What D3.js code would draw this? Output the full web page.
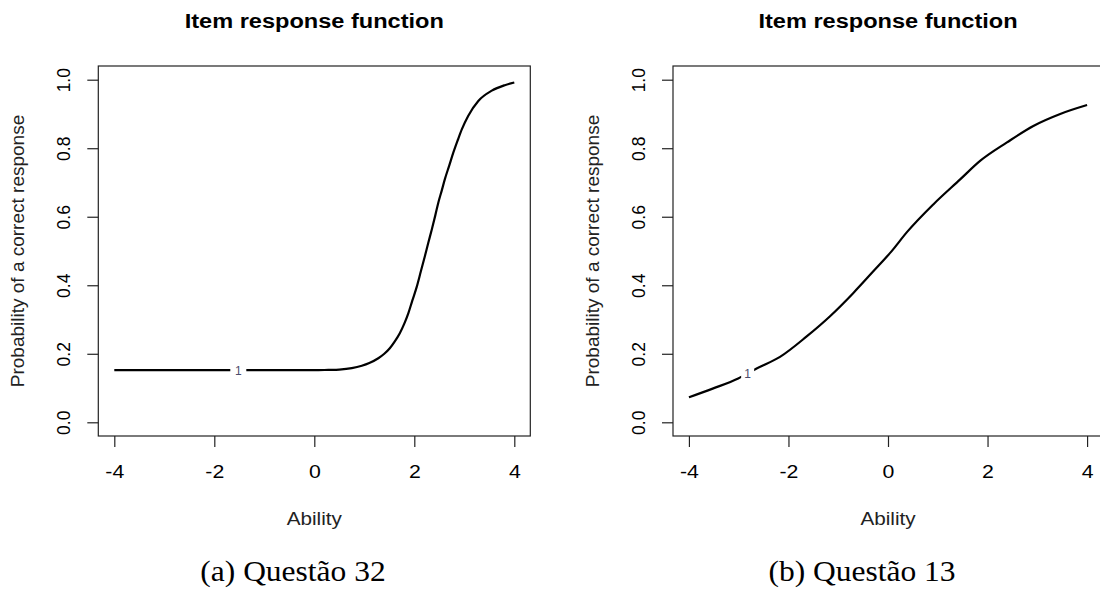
<!DOCTYPE html>
<html>
<head>
<meta charset="utf-8">
<script src="https://cdn.jsdelivr.net/npm/d3@7"></script>
<style>
  body { margin: 0; background: #fff; }
  text { fill: #000; }
</style>
</head>
<body>
<div id="chart"></div>
<script>
// values
const thetaA = [-4, -3, -2, -1, 0, 0.28, 0.5, 0.75, 0.95, 1.1, 1.28, 1.4, 1.51, 1.61, 1.71, 1.8, 1.88, 1.96,
    2.05, 2.13, 2.21, 2.28, 2.35, 2.42, 2.48, 2.55, 2.61, 2.7, 2.78, 2.87, 2.95, 3.08, 3.28, 3.55, 3.81, 4.0];
const probA = [0.152, 0.152, 0.152, 0.152, 0.152, 0.153, 0.154, 0.158, 0.165, 0.173, 0.187, 0.2, 0.216, 0.236, 0.26, 0.288, 0.318, 0.355,
    0.396, 0.44, 0.484, 0.524, 0.563, 0.604, 0.641, 0.677, 0.709, 0.75, 0.787, 0.824, 0.855, 0.895, 0.938, 0.968, 0.984, 0.992];

const thetaB = [-4, -3.51, -3.01, -2.64, -2.17, -1.64, -1.17, -0.7, -0.3, 0.07, 0.38, 0.91, 1.45, 1.85, 2.39, 2.92, 3.46, 4.0];
const probB = [0.073, 0.099, 0.128, 0.157, 0.191, 0.25, 0.309, 0.377, 0.44, 0.499, 0.555, 0.636, 0.709, 0.763, 0.817, 0.865, 0.9, 0.926];

const xTicks = [-4, -2, 0, 2, 4];
const yTicks = [0, 0.2, 0.4, 0.6, 0.8, 1.0];
const plotTitle = 'Item response function';
const xTitle = 'Ability';
const yTitle = 'Probability of a correct response';
const captions = ['(a) Questão 32', '(b) Questão 13'];
const curveLabel = '1';
const labelTheta = [-1.52, -2.82];

const W = 1100, H = 590;
const SX = 1.15; // the picture is a bit stretched sideways
const SANS = '"Liberation Sans", Arial, sans-serif';
const SERIF = '"Liberation Serif", "Times New Roman", serif';

const svg = d3.select('#chart').append('svg')
    .attr('width', W)
    .attr('height', H);

const panels = [
    { left: 98.3, right: 530.3, captionX: 293, theta: thetaA, prob: probA, labelAt: labelTheta[0], gap: 16 },
    { left: 673, right: 1103, captionX: 862, theta: thetaB, prob: probB, labelAt: labelTheta[1], gap: 13 }
];

panels.forEach((p, i) => drawPanel(p, captions[i]));

function drawPanel(p, caption) {
    const top = 66, bottom = 436;
    const x = d3.scaleLinear().domain([-4.32, 4.32]).range([p.left, p.right]);
    const y = d3.scaleLinear().domain([-0.04, 1.04]).range([bottom, top]);
    const midX = (p.left + p.right) / 2;

    const g = svg.append('g');

    // curve
    const pts = p.theta.map((t, k) => [t, p.prob[k]]);
    g.append('path')
        .datum(pts)
        .attr('fill', 'none')
        .attr('stroke', '#000')
        .attr('stroke-width', 2.2)
        .attr('stroke-linejoin', 'round')
        .attr('d', d3.line().x(d => x(d[0])).y(d => y(d[1])).curve(d3.curveMonotoneX));

    // the "1" label sitting in a gap of the curve
    const k = d3.bisectLeft(p.theta, p.labelAt);
    const f = (p.labelAt - p.theta[k - 1]) / (p.theta[k] - p.theta[k - 1]);
    const labelP = p.prob[k - 1] + f * (p.prob[k] - p.prob[k - 1]);
    g.append('rect')
        .attr('x', x(p.labelAt) - p.gap / 2)
        .attr('y', y(labelP) - 6)
        .attr('width', p.gap)
        .attr('height', 12)
        .attr('fill', '#fff');
    g.append('text')
        .attr('x', x(p.labelAt))
        .attr('y', y(labelP) + 4.5)
        .attr('text-anchor', 'middle')
        .style('font-family', SANS)
        .style('font-size', '12px')
        .style('fill', '#4b4b6b')
        .text(curveLabel);

    // box
    g.append('rect')
        .attr('x', p.left)
        .attr('y', top)
        .attr('width', p.right - p.left)
        .attr('height', bottom - top)
        .attr('fill', 'none')
        .attr('stroke', '#222')
        .attr('stroke-width', 1.2);

    // x axis
    const xAxis = g.append('g')
        .attr('transform', `translate(0,${bottom})`)
        .call(d3.axisBottom(x).tickValues(xTicks).tickSize(11).tickFormat(d => String(d)));
    xAxis.select('.domain').remove();
    xAxis.selectAll('line').attr('stroke', '#222').attr('stroke-width', 1.2);
    xAxis.selectAll('text')
        .attr('y', 0).attr('dy', 0)
        .attr('transform', `translate(0,42) scale(${SX},1)`)
        .style('font-size', '18.5px')
        .style('font-family', SANS);

    // y axis
    const yAxis = g.append('g')
        .attr('transform', `translate(${p.left},0)`)
        .call(d3.axisLeft(y).tickValues(yTicks).tickSize(11).tickFormat(d3.format('.1f')));
    yAxis.select('.domain').remove();
    yAxis.selectAll('line').attr('stroke', '#222').attr('stroke-width', 1.2);
    yAxis.selectAll('text')
        .attr('x', 0).attr('dy', 0)
        .attr('text-anchor', 'middle')
        .attr('transform', 'translate(-28,0) rotate(-90)')
        .style('font-size', '17.5px')
        .style('font-family', SANS);

    // titles
    g.append('text')
        .attr('transform', `translate(${midX},28) scale(${SX},1)`)
        .attr('text-anchor', 'middle')
        .style('font-family', SANS)
        .style('font-size', '20.5px')
        .style('font-weight', 'bold')
        .text(plotTitle);

    g.append('text')
        .attr('transform', `translate(${midX},525) scale(${SX},1)`)
        .attr('text-anchor', 'middle')
        .style('font-family', SANS)
        .style('font-size', '18px')
        .style('fill', '#222')
        .text(xTitle);

    g.append('text')
        .attr('transform', `translate(${p.left - 74},${(top + bottom) / 2}) rotate(-90)`)
        .attr('text-anchor', 'middle')
        .style('font-family', SANS)
        .style('font-size', '19px')
        .style('fill', '#222')
        .text(yTitle);

    // caption under the panel
    svg.append('text')
        .attr('transform', `translate(${p.captionX},581) scale(1.05,1)`)
        .attr('text-anchor', 'middle')
        .style('font-family', SERIF)
        .style('font-size', '30px')
        .text(caption);
}
</script>
</body>
</html>
